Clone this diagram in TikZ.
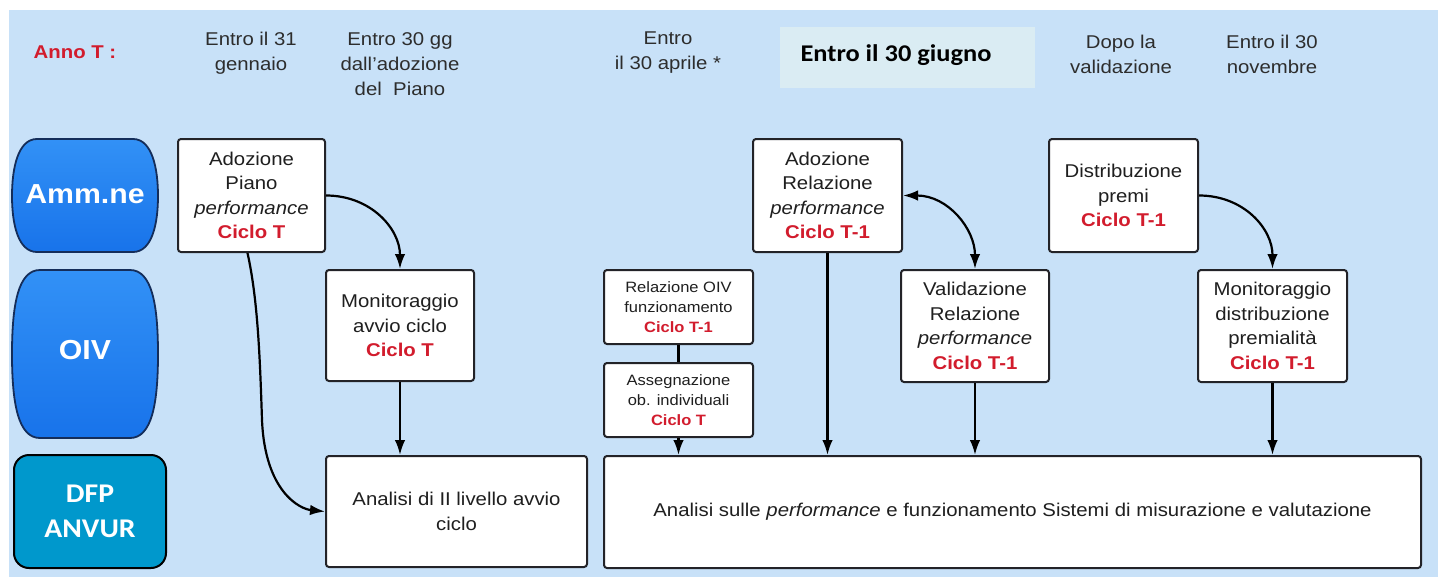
\documentclass[tikz,border=0pt]{standalone}
\usepackage{fontspec}
\setmainfont{Liberation Sans}[FakeStretch=1.1]
\newfontfamily\calib{Carlito}[FakeStretch=1.1]
\usetikzlibrary{arrows.meta}
\definecolor{bgblue}{RGB}{200,225,248}
\definecolor{giugnobg}{RGB}{218,236,243}
\definecolor{cred}{RGB}{210,28,45}
\definecolor{txtgray}{RGB}{45,45,45}
\definecolor{boxline}{RGB}{35,35,40}
\definecolor{roletop}{RGB}{50,145,246}
\definecolor{rolebot}{RGB}{24,115,234}
\definecolor{roleline}{RGB}{20,45,90}
\definecolor{dfpblue}{RGB}{0,152,204}
\newcommand{\ciclo}[1]{\textcolor{cred}{\bfseries #1}}
\begin{document}
\begin{tikzpicture}[x=1pt,y=-1pt,
  hdr/.style={text=txtgray, align=center, inner sep=0pt, font=\fontsize{18.5}{25}\selectfont},
  box/.style={draw=boxline, fill=white, line width=2pt, rounded corners=3pt, align=center,
              inner sep=0pt, text=black!88, font=\fontsize{18.5}{24.5}\selectfont},
  sbox/.style={box, font=\fontsize{15}{20}\selectfont},
  dim/.style 2 args={minimum width=#1, minimum height=#2},
  role/.style={draw=roleline, line width=1.8pt, top color=roletop, bottom color=rolebot},
  roletxt/.style={text=white, inner sep=0pt, font=\fontsize{27.5}{30}\selectfont\bfseries},
  tip/.tip={Latex[length=15pt,width=10.5pt]},
  arr/.style={draw=black, line width=2.2pt, -tip},
  darr/.style={draw=black, line width=2.2pt, tip-tip},
  ln/.style={draw=black, line width=2.2pt}
]
\useasboundingbox (0,0) rectangle (1438,578);
\fill[white] (0,0) rectangle (1438,578);
\fill[bgblue] (9,10) rectangle (1438,577);

% header
\node[text=cred, inner sep=0pt, font=\fontsize{18.5}{20}\selectfont\bfseries] (annot) at (75,52) {Anno T :};
\node[hdr] (h1) at (251,53) {Entro il 31\\gennaio};
\node[hdr] (h2) at (400,64) {Entro 30 gg\\dall'adozione\\del\ \ Piano};
\node[hdr] (h3) at (668,53) {Entro\\il 30 aprile *};
\node[fill=giugnobg, minimum width=255pt, minimum height=61pt, inner sep=0pt] (h4box) at (907.5,57.5) {};
\node[inner sep=0pt, text=black, font=\calib\fontsize{24}{28}\selectfont\bfseries] (h4) at (896,55) {Entro il 30 giugno};
\node[hdr] (h5) at (1121,54) {Dopo la\\validazione};
\node[hdr] (h6) at (1272,54) {Entro il 30\\novembre};

% roles
\path[role] (37,139) -- (133,139) .. controls (152,139) and (158,168) .. (158,196)
  .. controls (158,224) and (152,252) .. (133,252) -- (37,252)
  .. controls (18,252) and (12,224) .. (12,196) .. controls (12,168) and (18,139) .. (37,139) -- cycle;
\node[roletxt] (amm) at (85,194) {Amm.ne};
\path[role] (40,270) -- (130,270) .. controls (152,270) and (158,305) .. (158,354)
  .. controls (158,403) and (152,438) .. (130,438) -- (40,438)
  .. controls (18,438) and (12,403) .. (12,354) .. controls (12,305) and (18,270) .. (40,270) -- cycle;
\node[roletxt] (oiv) at (85,350) {OIV};
\node[draw=black, line width=2pt, rounded corners=15pt, fill=dfpblue, dim={152pt}{113pt},
      text=white, align=center, inner sep=0pt,
      font=\calib\fontsize{27}{35}\selectfont\bfseries] (dfp) at (90,511.5) {DFP\\ANVUR};

% boxes
\node[box, dim={147pt}{113pt}] (a1) at (251.5,195.5) {Adozione\\Piano\\\textit{performance}\\\ciclo{Ciclo T}};
\node[box, dim={148pt}{111pt}] (m1) at (400,325.5) {Monitoraggio\\avvio ciclo\\\ciclo{Ciclo T}};
\node[box, dim={261pt}{111pt}] (an1) at (456.5,511.5) {Analisi di II livello avvio\\ciclo};

\node[sbox, dim={149pt}{74pt}] (roiv) at (678.5,307) {Relazione OIV\\funzionamento\\\ciclo{Ciclo T-1}};
\node[sbox, dim={149pt}{74pt}] (ass) at (678.5,400) {Assegnazione\\ob. individuali\\\ciclo{Ciclo T}};
\node[box, dim={149pt}{113pt}] (ar) at (827.5,195.5) {Adozione\\Relazione\\\textit{performance}\\\ciclo{Ciclo T-1}};
\node[box, dim={148pt}{112pt}] (val) at (975,326) {Validazione\\Relazione\\\textit{performance}\\\ciclo{Ciclo T-1}};
\node[box, dim={149pt}{113pt}] (dist) at (1123.5,195.5) {Distribuzione\\premi\\\ciclo{Ciclo T-1}};
\node[box, dim={149pt}{112pt}] (md) at (1272.5,326) {Monitoraggio\\distribuzione\\premialità\\\ciclo{Ciclo T-1}};
\node[box, dim={817pt}{112pt}] (an2) at (1012.5,512) {Analisi sulle \textit{performance} e funzionamento Sistemi di misurazione e valutazione};

% connectors
\draw[arr] (a1.east) .. controls +(45,0) and +(0,-40) .. (m1.north);
\draw[arr] ([xshift=-4pt]a1.south) .. controls (258,300) and (260,360) .. (262,420)
   .. controls (265,492) and (300,509) .. (an1.west);
\draw[arr] (m1.south) -- (m1.south |- an1.north);
\draw[ln] (roiv.south) -- (ass.north);
\draw[arr] (ass.south) -- (ass.south |- an2.north);
\draw[arr] (ar.south) -- (ar.south |- an2.north);
\draw[darr] (ar.east) .. controls +(45,0) and +(0,-40) .. (val.north);
\draw[arr] (val.south) -- (val.south |- an2.north);
\draw[arr] (dist.east) .. controls +(45,0) and +(0,-40) .. (md.north);
\draw[arr] (md.south) -- (md.south |- an2.north);
\end{tikzpicture}
\end{document}
